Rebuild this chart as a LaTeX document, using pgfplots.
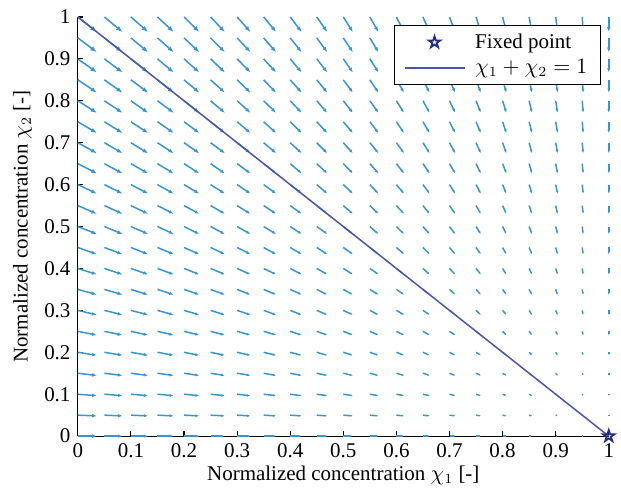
\documentclass[border=0pt]{standalone}
\usepackage{fontspec}
\setmainfont{Liberation Serif}
\usepackage{pgfplots}
\pgfplotsset{compat=1.18}
\usepackage{pgfplotstable}
\usetikzlibrary{arrows.meta}
\definecolor{qcol}{RGB}{55,150,210}
\definecolor{lcol}{RGB}{75,85,170}
\definecolor{scol}{RGB}{35,45,140}
\pgfdeclareplotmark{pentagram}{%
 \pgfpathmoveto{\pgfpointpolar{90}{\pgfplotmarksize}}%
 \pgfpathlineto{\pgfpointpolar{126}{0.382*\pgfplotmarksize}}%
 \pgfpathlineto{\pgfpointpolar{162}{\pgfplotmarksize}}%
 \pgfpathlineto{\pgfpointpolar{198}{0.382*\pgfplotmarksize}}%
 \pgfpathlineto{\pgfpointpolar{234}{\pgfplotmarksize}}%
 \pgfpathlineto{\pgfpointpolar{270}{0.382*\pgfplotmarksize}}%
 \pgfpathlineto{\pgfpointpolar{306}{\pgfplotmarksize}}%
 \pgfpathlineto{\pgfpointpolar{342}{0.382*\pgfplotmarksize}}%
 \pgfpathlineto{\pgfpointpolar{18}{\pgfplotmarksize}}%
 \pgfpathlineto{\pgfpointpolar{54}{0.382*\pgfplotmarksize}}%
 \pgfpathclose
 \pgfusepathqstroke
}
\pgfplotstableread[row sep=\\]{
x y u v\\
0 0 1 0\\ 0 0.05 1 -0.05\\ 0 0.1 1 -0.1\\ 0 0.15 1 -0.15\\ 0 0.2 1 -0.2\\ 0 0.25 1 -0.25\\ 0 0.3 1 -0.3\\ 0 0.35 1 -0.35\\ 0 0.4 1 -0.4\\ 0 0.45 1 -0.45\\ 0 0.5 1 -0.5\\ 0 0.55 1 -0.55\\ 0 0.6 1 -0.6\\ 0 0.65 1 -0.65\\ 0 0.7 1 -0.7\\ 0 0.75 1 -0.75\\ 0 0.8 1 -0.8\\ 0 0.85 1 -0.85\\ 0 0.9 1 -0.9\\ 0 0.95 1 -0.95\\ 0 1 1 -1\\
0.05 0 0.95 0\\ 0.05 0.05 0.95 -0.05\\ 0.05 0.1 0.95 -0.1\\ 0.05 0.15 0.95 -0.15\\ 0.05 0.2 0.95 -0.2\\ 0.05 0.25 0.95 -0.25\\ 0.05 0.3 0.95 -0.3\\ 0.05 0.35 0.95 -0.35\\ 0.05 0.4 0.95 -0.4\\ 0.05 0.45 0.95 -0.45\\ 0.05 0.5 0.95 -0.5\\ 0.05 0.55 0.95 -0.55\\ 0.05 0.6 0.95 -0.6\\ 0.05 0.65 0.95 -0.65\\ 0.05 0.7 0.95 -0.7\\ 0.05 0.75 0.95 -0.75\\ 0.05 0.8 0.95 -0.8\\ 0.05 0.85 0.95 -0.85\\ 0.05 0.9 0.95 -0.9\\ 0.05 0.95 0.95 -0.95\\ 0.05 1 0.95 -1\\
0.1 0 0.9 0\\ 0.1 0.05 0.9 -0.05\\ 0.1 0.1 0.9 -0.1\\ 0.1 0.15 0.9 -0.15\\ 0.1 0.2 0.9 -0.2\\ 0.1 0.25 0.9 -0.25\\ 0.1 0.3 0.9 -0.3\\ 0.1 0.35 0.9 -0.35\\ 0.1 0.4 0.9 -0.4\\ 0.1 0.45 0.9 -0.45\\ 0.1 0.5 0.9 -0.5\\ 0.1 0.55 0.9 -0.55\\ 0.1 0.6 0.9 -0.6\\ 0.1 0.65 0.9 -0.65\\ 0.1 0.7 0.9 -0.7\\ 0.1 0.75 0.9 -0.75\\ 0.1 0.8 0.9 -0.8\\ 0.1 0.85 0.9 -0.85\\ 0.1 0.9 0.9 -0.9\\ 0.1 0.95 0.9 -0.95\\ 0.1 1 0.9 -1\\
0.15 0 0.85 0\\ 0.15 0.05 0.85 -0.05\\ 0.15 0.1 0.85 -0.1\\ 0.15 0.15 0.85 -0.15\\ 0.15 0.2 0.85 -0.2\\ 0.15 0.25 0.85 -0.25\\ 0.15 0.3 0.85 -0.3\\ 0.15 0.35 0.85 -0.35\\ 0.15 0.4 0.85 -0.4\\ 0.15 0.45 0.85 -0.45\\ 0.15 0.5 0.85 -0.5\\ 0.15 0.55 0.85 -0.55\\ 0.15 0.6 0.85 -0.6\\ 0.15 0.65 0.85 -0.65\\ 0.15 0.7 0.85 -0.7\\ 0.15 0.75 0.85 -0.75\\ 0.15 0.8 0.85 -0.8\\ 0.15 0.85 0.85 -0.85\\ 0.15 0.9 0.85 -0.9\\ 0.15 0.95 0.85 -0.95\\ 0.15 1 0.85 -1\\
0.2 0 0.8 0\\ 0.2 0.05 0.8 -0.05\\ 0.2 0.1 0.8 -0.1\\ 0.2 0.15 0.8 -0.15\\ 0.2 0.2 0.8 -0.2\\ 0.2 0.25 0.8 -0.25\\ 0.2 0.3 0.8 -0.3\\ 0.2 0.35 0.8 -0.35\\ 0.2 0.4 0.8 -0.4\\ 0.2 0.45 0.8 -0.45\\ 0.2 0.5 0.8 -0.5\\ 0.2 0.55 0.8 -0.55\\ 0.2 0.6 0.8 -0.6\\ 0.2 0.65 0.8 -0.65\\ 0.2 0.7 0.8 -0.7\\ 0.2 0.75 0.8 -0.75\\ 0.2 0.8 0.8 -0.8\\ 0.2 0.85 0.8 -0.85\\ 0.2 0.9 0.8 -0.9\\ 0.2 0.95 0.8 -0.95\\ 0.2 1 0.8 -1\\
0.25 0 0.75 0\\ 0.25 0.05 0.75 -0.05\\ 0.25 0.1 0.75 -0.1\\ 0.25 0.15 0.75 -0.15\\ 0.25 0.2 0.75 -0.2\\ 0.25 0.25 0.75 -0.25\\ 0.25 0.3 0.75 -0.3\\ 0.25 0.35 0.75 -0.35\\ 0.25 0.4 0.75 -0.4\\ 0.25 0.45 0.75 -0.45\\ 0.25 0.5 0.75 -0.5\\ 0.25 0.55 0.75 -0.55\\ 0.25 0.6 0.75 -0.6\\ 0.25 0.65 0.75 -0.65\\ 0.25 0.7 0.75 -0.7\\ 0.25 0.75 0.75 -0.75\\ 0.25 0.8 0.75 -0.8\\ 0.25 0.85 0.75 -0.85\\ 0.25 0.9 0.75 -0.9\\ 0.25 0.95 0.75 -0.95\\ 0.25 1 0.75 -1\\
0.3 0 0.7 0\\ 0.3 0.05 0.7 -0.05\\ 0.3 0.1 0.7 -0.1\\ 0.3 0.15 0.7 -0.15\\ 0.3 0.2 0.7 -0.2\\ 0.3 0.25 0.7 -0.25\\ 0.3 0.3 0.7 -0.3\\ 0.3 0.35 0.7 -0.35\\ 0.3 0.4 0.7 -0.4\\ 0.3 0.45 0.7 -0.45\\ 0.3 0.5 0.7 -0.5\\ 0.3 0.55 0.7 -0.55\\ 0.3 0.6 0.7 -0.6\\ 0.3 0.65 0.7 -0.65\\ 0.3 0.7 0.7 -0.7\\ 0.3 0.75 0.7 -0.75\\ 0.3 0.8 0.7 -0.8\\ 0.3 0.85 0.7 -0.85\\ 0.3 0.9 0.7 -0.9\\ 0.3 0.95 0.7 -0.95\\ 0.3 1 0.7 -1\\
0.35 0 0.65 0\\ 0.35 0.05 0.65 -0.05\\ 0.35 0.1 0.65 -0.1\\ 0.35 0.15 0.65 -0.15\\ 0.35 0.2 0.65 -0.2\\ 0.35 0.25 0.65 -0.25\\ 0.35 0.3 0.65 -0.3\\ 0.35 0.35 0.65 -0.35\\ 0.35 0.4 0.65 -0.4\\ 0.35 0.45 0.65 -0.45\\ 0.35 0.5 0.65 -0.5\\ 0.35 0.55 0.65 -0.55\\ 0.35 0.6 0.65 -0.6\\ 0.35 0.65 0.65 -0.65\\ 0.35 0.7 0.65 -0.7\\ 0.35 0.75 0.65 -0.75\\ 0.35 0.8 0.65 -0.8\\ 0.35 0.85 0.65 -0.85\\ 0.35 0.9 0.65 -0.9\\ 0.35 0.95 0.65 -0.95\\ 0.35 1 0.65 -1\\
0.4 0 0.6 0\\ 0.4 0.05 0.6 -0.05\\ 0.4 0.1 0.6 -0.1\\ 0.4 0.15 0.6 -0.15\\ 0.4 0.2 0.6 -0.2\\ 0.4 0.25 0.6 -0.25\\ 0.4 0.3 0.6 -0.3\\ 0.4 0.35 0.6 -0.35\\ 0.4 0.4 0.6 -0.4\\ 0.4 0.45 0.6 -0.45\\ 0.4 0.5 0.6 -0.5\\ 0.4 0.55 0.6 -0.55\\ 0.4 0.6 0.6 -0.6\\ 0.4 0.65 0.6 -0.65\\ 0.4 0.7 0.6 -0.7\\ 0.4 0.75 0.6 -0.75\\ 0.4 0.8 0.6 -0.8\\ 0.4 0.85 0.6 -0.85\\ 0.4 0.9 0.6 -0.9\\ 0.4 0.95 0.6 -0.95\\ 0.4 1 0.6 -1\\
0.45 0 0.55 0\\ 0.45 0.05 0.55 -0.05\\ 0.45 0.1 0.55 -0.1\\ 0.45 0.15 0.55 -0.15\\ 0.45 0.2 0.55 -0.2\\ 0.45 0.25 0.55 -0.25\\ 0.45 0.3 0.55 -0.3\\ 0.45 0.35 0.55 -0.35\\ 0.45 0.4 0.55 -0.4\\ 0.45 0.45 0.55 -0.45\\ 0.45 0.5 0.55 -0.5\\ 0.45 0.55 0.55 -0.55\\ 0.45 0.6 0.55 -0.6\\ 0.45 0.65 0.55 -0.65\\ 0.45 0.7 0.55 -0.7\\ 0.45 0.75 0.55 -0.75\\ 0.45 0.8 0.55 -0.8\\ 0.45 0.85 0.55 -0.85\\ 0.45 0.9 0.55 -0.9\\ 0.45 0.95 0.55 -0.95\\ 0.45 1 0.55 -1\\
0.5 0 0.5 0\\ 0.5 0.05 0.5 -0.05\\ 0.5 0.1 0.5 -0.1\\ 0.5 0.15 0.5 -0.15\\ 0.5 0.2 0.5 -0.2\\ 0.5 0.25 0.5 -0.25\\ 0.5 0.3 0.5 -0.3\\ 0.5 0.35 0.5 -0.35\\ 0.5 0.4 0.5 -0.4\\ 0.5 0.45 0.5 -0.45\\ 0.5 0.5 0.5 -0.5\\ 0.5 0.55 0.5 -0.55\\ 0.5 0.6 0.5 -0.6\\ 0.5 0.65 0.5 -0.65\\ 0.5 0.7 0.5 -0.7\\ 0.5 0.75 0.5 -0.75\\ 0.5 0.8 0.5 -0.8\\ 0.5 0.85 0.5 -0.85\\ 0.5 0.9 0.5 -0.9\\ 0.5 0.95 0.5 -0.95\\ 0.5 1 0.5 -1\\
0.55 0 0.45 0\\ 0.55 0.05 0.45 -0.05\\ 0.55 0.1 0.45 -0.1\\ 0.55 0.15 0.45 -0.15\\ 0.55 0.2 0.45 -0.2\\ 0.55 0.25 0.45 -0.25\\ 0.55 0.3 0.45 -0.3\\ 0.55 0.35 0.45 -0.35\\ 0.55 0.4 0.45 -0.4\\ 0.55 0.45 0.45 -0.45\\ 0.55 0.5 0.45 -0.5\\ 0.55 0.55 0.45 -0.55\\ 0.55 0.6 0.45 -0.6\\ 0.55 0.65 0.45 -0.65\\ 0.55 0.7 0.45 -0.7\\ 0.55 0.75 0.45 -0.75\\ 0.55 0.8 0.45 -0.8\\ 0.55 0.85 0.45 -0.85\\ 0.55 0.9 0.45 -0.9\\ 0.55 0.95 0.45 -0.95\\ 0.55 1 0.45 -1\\
0.6 0 0.4 0\\ 0.6 0.05 0.4 -0.05\\ 0.6 0.1 0.4 -0.1\\ 0.6 0.15 0.4 -0.15\\ 0.6 0.2 0.4 -0.2\\ 0.6 0.25 0.4 -0.25\\ 0.6 0.3 0.4 -0.3\\ 0.6 0.35 0.4 -0.35\\ 0.6 0.4 0.4 -0.4\\ 0.6 0.45 0.4 -0.45\\ 0.6 0.5 0.4 -0.5\\ 0.6 0.55 0.4 -0.55\\ 0.6 0.6 0.4 -0.6\\ 0.6 0.65 0.4 -0.65\\ 0.6 0.7 0.4 -0.7\\ 0.6 0.75 0.4 -0.75\\ 0.6 0.8 0.4 -0.8\\ 0.6 0.85 0.4 -0.85\\ 0.6 0.9 0.4 -0.9\\ 0.6 0.95 0.4 -0.95\\ 0.6 1 0.4 -1\\
0.65 0 0.35 0\\ 0.65 0.05 0.35 -0.05\\ 0.65 0.1 0.35 -0.1\\ 0.65 0.15 0.35 -0.15\\ 0.65 0.2 0.35 -0.2\\ 0.65 0.25 0.35 -0.25\\ 0.65 0.3 0.35 -0.3\\ 0.65 0.35 0.35 -0.35\\ 0.65 0.4 0.35 -0.4\\ 0.65 0.45 0.35 -0.45\\ 0.65 0.5 0.35 -0.5\\ 0.65 0.55 0.35 -0.55\\ 0.65 0.6 0.35 -0.6\\ 0.65 0.65 0.35 -0.65\\ 0.65 0.7 0.35 -0.7\\ 0.65 0.75 0.35 -0.75\\ 0.65 0.8 0.35 -0.8\\ 0.65 0.85 0.35 -0.85\\ 0.65 0.9 0.35 -0.9\\ 0.65 0.95 0.35 -0.95\\ 0.65 1 0.35 -1\\
0.7 0 0.3 0\\ 0.7 0.05 0.3 -0.05\\ 0.7 0.1 0.3 -0.1\\ 0.7 0.15 0.3 -0.15\\ 0.7 0.2 0.3 -0.2\\ 0.7 0.25 0.3 -0.25\\ 0.7 0.3 0.3 -0.3\\ 0.7 0.35 0.3 -0.35\\ 0.7 0.4 0.3 -0.4\\ 0.7 0.45 0.3 -0.45\\ 0.7 0.5 0.3 -0.5\\ 0.7 0.55 0.3 -0.55\\ 0.7 0.6 0.3 -0.6\\ 0.7 0.65 0.3 -0.65\\ 0.7 0.7 0.3 -0.7\\ 0.7 0.75 0.3 -0.75\\ 0.7 0.8 0.3 -0.8\\ 0.7 0.85 0.3 -0.85\\ 0.7 0.9 0.3 -0.9\\ 0.7 0.95 0.3 -0.95\\ 0.7 1 0.3 -1\\
0.75 0 0.25 0\\ 0.75 0.05 0.25 -0.05\\ 0.75 0.1 0.25 -0.1\\ 0.75 0.15 0.25 -0.15\\ 0.75 0.2 0.25 -0.2\\ 0.75 0.25 0.25 -0.25\\ 0.75 0.3 0.25 -0.3\\ 0.75 0.35 0.25 -0.35\\ 0.75 0.4 0.25 -0.4\\ 0.75 0.45 0.25 -0.45\\ 0.75 0.5 0.25 -0.5\\ 0.75 0.55 0.25 -0.55\\ 0.75 0.6 0.25 -0.6\\ 0.75 0.65 0.25 -0.65\\ 0.75 0.7 0.25 -0.7\\ 0.75 0.75 0.25 -0.75\\ 0.75 0.8 0.25 -0.8\\ 0.75 0.85 0.25 -0.85\\ 0.75 0.9 0.25 -0.9\\ 0.75 0.95 0.25 -0.95\\ 0.75 1 0.25 -1\\
0.8 0 0.2 0\\ 0.8 0.05 0.2 -0.05\\ 0.8 0.1 0.2 -0.1\\ 0.8 0.15 0.2 -0.15\\ 0.8 0.2 0.2 -0.2\\ 0.8 0.25 0.2 -0.25\\ 0.8 0.3 0.2 -0.3\\ 0.8 0.35 0.2 -0.35\\ 0.8 0.4 0.2 -0.4\\ 0.8 0.45 0.2 -0.45\\ 0.8 0.5 0.2 -0.5\\ 0.8 0.55 0.2 -0.55\\ 0.8 0.6 0.2 -0.6\\ 0.8 0.65 0.2 -0.65\\ 0.8 0.7 0.2 -0.7\\ 0.8 0.75 0.2 -0.75\\ 0.8 0.8 0.2 -0.8\\ 0.8 0.85 0.2 -0.85\\ 0.8 0.9 0.2 -0.9\\ 0.8 0.95 0.2 -0.95\\ 0.8 1 0.2 -1\\
0.85 0 0.15 0\\ 0.85 0.05 0.15 -0.05\\ 0.85 0.1 0.15 -0.1\\ 0.85 0.15 0.15 -0.15\\ 0.85 0.2 0.15 -0.2\\ 0.85 0.25 0.15 -0.25\\ 0.85 0.3 0.15 -0.3\\ 0.85 0.35 0.15 -0.35\\ 0.85 0.4 0.15 -0.4\\ 0.85 0.45 0.15 -0.45\\ 0.85 0.5 0.15 -0.5\\ 0.85 0.55 0.15 -0.55\\ 0.85 0.6 0.15 -0.6\\ 0.85 0.65 0.15 -0.65\\ 0.85 0.7 0.15 -0.7\\ 0.85 0.75 0.15 -0.75\\ 0.85 0.8 0.15 -0.8\\ 0.85 0.85 0.15 -0.85\\ 0.85 0.9 0.15 -0.9\\ 0.85 0.95 0.15 -0.95\\ 0.85 1 0.15 -1\\
0.9 0 0.1 0\\ 0.9 0.05 0.1 -0.05\\ 0.9 0.1 0.1 -0.1\\ 0.9 0.15 0.1 -0.15\\ 0.9 0.2 0.1 -0.2\\ 0.9 0.25 0.1 -0.25\\ 0.9 0.3 0.1 -0.3\\ 0.9 0.35 0.1 -0.35\\ 0.9 0.4 0.1 -0.4\\ 0.9 0.45 0.1 -0.45\\ 0.9 0.5 0.1 -0.5\\ 0.9 0.55 0.1 -0.55\\ 0.9 0.6 0.1 -0.6\\ 0.9 0.65 0.1 -0.65\\ 0.9 0.7 0.1 -0.7\\ 0.9 0.75 0.1 -0.75\\ 0.9 0.8 0.1 -0.8\\ 0.9 0.85 0.1 -0.85\\ 0.9 0.9 0.1 -0.9\\ 0.9 0.95 0.1 -0.95\\ 0.9 1 0.1 -1\\
0.95 0 0.05 0\\ 0.95 0.05 0.05 -0.05\\ 0.95 0.1 0.05 -0.1\\ 0.95 0.15 0.05 -0.15\\ 0.95 0.2 0.05 -0.2\\ 0.95 0.25 0.05 -0.25\\ 0.95 0.3 0.05 -0.3\\ 0.95 0.35 0.05 -0.35\\ 0.95 0.4 0.05 -0.4\\ 0.95 0.45 0.05 -0.45\\ 0.95 0.5 0.05 -0.5\\ 0.95 0.55 0.05 -0.55\\ 0.95 0.6 0.05 -0.6\\ 0.95 0.65 0.05 -0.65\\ 0.95 0.7 0.05 -0.7\\ 0.95 0.75 0.05 -0.75\\ 0.95 0.8 0.05 -0.8\\ 0.95 0.85 0.05 -0.85\\ 0.95 0.9 0.05 -0.9\\ 0.95 0.95 0.05 -0.95\\ 0.95 1 0.05 -1\\
1 0.05 0 -0.05\\ 1 0.1 0 -0.1\\ 1 0.15 0 -0.15\\ 1 0.2 0 -0.2\\ 1 0.25 0 -0.25\\ 1 0.3 0 -0.3\\ 1 0.35 0 -0.35\\ 1 0.4 0 -0.4\\ 1 0.45 0 -0.45\\ 1 0.5 0 -0.5\\ 1 0.55 0 -0.55\\ 1 0.6 0 -0.6\\ 1 0.65 0 -0.65\\ 1 0.7 0 -0.7\\ 1 0.75 0 -0.75\\ 1 0.8 0 -0.8\\ 1 0.85 0 -0.85\\ 1 0.9 0 -0.9\\ 1 0.95 0 -0.95\\ 1 1 0 -1\\
}\field
\begin{document}
\fontsize{10.5}{12.6}\selectfont
\begin{tikzpicture}
\begin{axis}[
 scale only axis, width=266pt, height=210pt,
 xmin=0, xmax=1, ymin=0, ymax=1,
 axis x line*=bottom, axis y line*=left,
 axis line style={-, black, line width=0.55pt},
 tick align=inside, major tick length=2.5pt,
 tick style={black, line width=0.55pt},
 xtick={0,0.1,0.2,0.3,0.4,0.5,0.6,0.7,0.8,0.9,1},
 ytick={0,0.1,0.2,0.3,0.4,0.5,0.6,0.7,0.8,0.9,1},
 /pgf/number format/assume math mode=true,
 xlabel={Normalized concentration $\chi_1$ [-]},
 ylabel={Normalized concentration $\chi_2$ [-]},
 xlabel style={yshift=3pt},
 ylabel style={yshift=-1pt},
 clip=false,
 point meta min=0, point meta max=1.4142,
 legend style={at={(1,1)}, anchor=north east, xshift=-4pt, yshift=-4pt,
   draw=black, line width=0.55pt, fill=white,
   font=\fontsize{10.5}{12.6}\selectfont, row sep=0pt, inner xsep=4.5pt, inner ysep=2pt,
   /tikz/every odd column/.append style={column sep=3pt}},
 legend cell align=left,
 reverse legend,
 legend image code/.code={\draw[mark repeat=2,mark phase=2,#1] plot coordinates {(0pt,0pt) (15pt,0pt) (30pt,0pt)};},
]
\addplot[qcol, line width=0.75pt, forget plot,
  point meta={sqrt((\thisrow{u})*(\thisrow{u})+(\thisrow{v})*(\thisrow{v}))},
  quiver={u=\thisrow{u}, v=\thisrow{v}, scale arrows=0.036,
    every arrow/.append style={-{Latex[length=3.4pt,width=2.6pt,scale length={max(0.15,\pgfplotspointmetatransformed/1000)},scale width={max(0.15,\pgfplotspointmetatransformed/1000)}]}}}
  ] table[x=x,y=y] {\field};
\addplot[lcol, line width=0.75pt, mark=none] coordinates {(0,1) (1,0)};
\addlegendentry{$\chi_1+\chi_2=1$}
\addplot[only marks, mark=pentagram, mark size=3pt, scol, line width=0.9pt] coordinates {(1,0)};
\addlegendentry{Fixed point}
\end{axis}
\path ([shift={(-39pt,-26pt)}]current axis.south west) rectangle ([shift={(5.5pt,8.5pt)}]current axis.north east);
\end{tikzpicture}
\end{document}
